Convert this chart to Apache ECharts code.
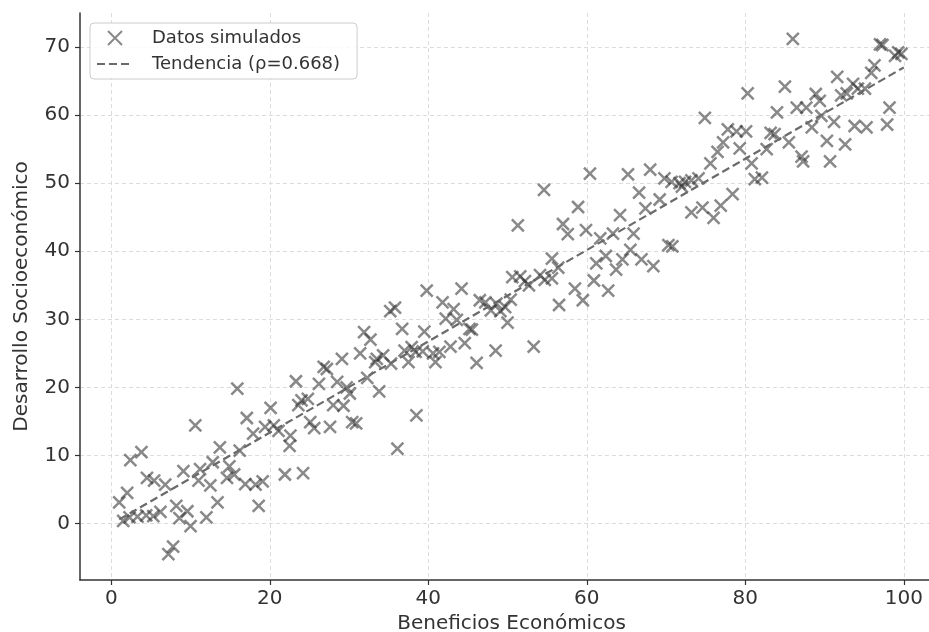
<!DOCTYPE html>
<html>
<head>
<meta charset="utf-8">
<script src="https://cdn.jsdelivr.net/npm/echarts@6/dist/echarts.min.js"></script>
<style>
html,body{margin:0;padding:0;background:#fff;overflow:hidden;}
#c{width:929px;height:632px;}
</style>
</head>
<body>
<div id="c"></div>
<script>
// ---- data ----
const xTicks = [0, 20, 40, 60, 80, 100];
const yTicks = [0, 10, 20, 30, 40, 50, 60, 70];

const beneficios = [
  1.0, 1.5, 2.0, 2.3, 2.4, 3.3, 3.8, 4.4, 4.5, 5.3,
  5.4, 6.2, 6.8, 7.2, 7.8, 8.2, 8.6, 9.1, 9.6, 10.0,
  10.6, 11.0, 11.2, 12.0, 12.5, 12.8, 13.4, 13.7, 14.6, 14.9,
  15.5, 15.9, 16.2, 16.9, 17.1, 17.9, 18.2, 18.6, 19.1, 19.4,
  20.1, 20.5, 21.1, 21.9, 22.6, 22.5, 23.3, 23.6, 24.0, 24.2,
  24.8, 25.1, 25.6, 26.2, 26.8, 27.2, 27.6, 28.0, 28.5, 29.1,
  29.3, 29.7, 30.1, 30.4, 30.9, 31.4, 31.9, 32.3, 32.7, 33.3,
  33.5, 33.8, 34.3, 35.2, 35.3, 35.8, 36.1, 36.7, 37.0, 37.5,
  37.9, 38.4, 38.5, 39.3, 39.5, 39.8, 40.6, 40.9, 41.4, 41.8,
  42.2, 42.8, 43.2, 43.6, 44.2, 44.6, 45.2, 45.5, 46.1, 46.5,
  47.2, 47.9, 48.5, 48.6, 49.1, 49.7, 50.0, 50.4, 50.6, 51.3,
  51.6, 52.2, 52.7, 53.3, 54.1, 54.6, 54.7, 55.6, 55.6, 56.4,
  56.5, 57.0, 57.6, 58.5, 58.9, 59.5, 59.9, 60.4, 60.9, 61.2,
  61.7, 62.4, 62.7, 63.3, 63.7, 64.2, 64.5, 65.2, 65.5, 65.9,
  66.6, 66.9, 67.4, 68.0, 68.4, 69.2, 69.8, 70.3, 70.8, 70.7,
  71.7, 72.0, 72.4, 73.2, 73.2, 74.1, 74.6, 74.9, 75.6, 76.0,
  76.5, 76.9, 77.2, 77.8, 78.4, 78.9, 79.3, 80.1, 80.3, 80.8,
  81.2, 82.1, 82.7, 83.2, 83.7, 84.0, 85.0, 85.5, 86.0, 86.5,
  87.1, 87.3, 87.7, 88.4, 88.9, 89.4, 89.6, 90.3, 90.7, 91.2,
  91.6, 92.1, 92.6, 92.8, 93.6, 93.8, 94.2, 95.1, 95.3, 95.9,
  96.3, 97.0, 97.3, 97.9, 98.2, 98.9, 99.3, 99.7
];

const desarrollo = [
  3.1, 0.4, 4.5, 0.9, 9.3, 1.0, 10.5, 1.2, 6.7, 1.1,
  6.3, 1.7, 5.7, -4.5, -3.4, 2.6, 0.8, 7.7, 1.8, -0.4,
  14.4, 6.3, 8.0, 0.9, 5.6, 9.0, 3.1, 11.2, 6.7, 8.4,
  7.2, 19.8, 10.7, 5.8, 15.5, 13.2, 5.7, 2.6, 6.2, 14.2,
  17.0, 14.4, 13.6, 7.2, 12.9, 11.4, 20.9, 17.4, 18.1, 7.4,
  18.3, 14.9, 14.0, 20.5, 23.0, 22.7, 14.2, 17.4, 20.8, 24.2,
  17.3, 20.0, 19.1, 14.9, 14.7, 25.0, 28.1, 21.4, 27.0, 23.7,
  24.2, 19.4, 24.7, 31.2, 23.5, 31.7, 11.0, 28.6, 25.4, 23.7,
  25.9, 25.2, 15.9, 25.3, 28.2, 34.2, 25.0, 23.7, 25.2, 32.5,
  30.1, 26.0, 31.5, 29.9, 34.5, 26.5, 28.6, 28.5, 23.6, 32.8,
  32.5, 31.3, 25.4, 32.3, 31.2, 31.8, 29.5, 32.9, 36.2, 43.8,
  36.3, 35.6, 35.0, 26.0, 36.5, 49.0, 35.8, 36.0, 38.9, 37.6,
  32.1, 44.0, 42.5, 34.5, 46.5, 32.8, 43.1, 51.4, 35.7, 38.2,
  41.9, 39.3, 34.2, 42.6, 37.3, 45.3, 38.8, 51.3, 40.2, 42.6,
  48.6, 38.8, 46.3, 52.0, 37.8, 47.6, 50.7, 40.9, 40.7, 50.2,
  50.0, 49.5, 50.2, 50.4, 45.7, 50.7, 46.4, 59.6, 52.9, 44.9,
  54.6, 46.7, 56.0, 57.9, 48.4, 57.6, 55.1, 57.6, 63.2, 52.9,
  50.6, 50.8, 55.0, 57.4, 57.2, 60.4, 64.2, 56.0, 71.2, 61.1,
  53.9, 53.2, 61.1, 58.2, 63.1, 62.1, 59.9, 56.2, 53.2, 59.0,
  65.6, 62.9, 55.7, 63.2, 64.6, 58.4, 63.9, 63.9, 58.2, 66.2,
  67.3, 70.4, 70.3, 58.6, 61.1, 68.7, 69.2, 69.0
];

const trendX = [1, 100];
const trendY = [0.6, 67.0];

const serieNames = ['Datos simulados', 'Tendencia (\u03c1=0.668)'];
const axisNames = ['Beneficios Económicos', 'Desarrollo Socioeconómico'];

// ---- chart ----
const FONT = 'DejaVu Sans';
const chart = echarts.init(document.getElementById('c'), null, {renderer: 'canvas', width: 929, height: 632});

const scatterData = beneficios.map((x, i) => [x, desarrollo[i]]);
const trendData = trendX.map((x, i) => [x, trendY[i]]);

const xMark = 'path://M0,0L10,10M10,0L0,10';

const option = {
  animation: false,
  backgroundColor: '#ffffff',
  grid: {left: 80, top: 13, width: 863, height: 567, containLabel: false, outerBoundsMode: 'none'},
  xAxis: {
    type: 'value', min: -3.95, max: 104.95,
    name: axisNames[0], nameLocation: 'middle', nameGap: 33,
    nameTextStyle: {fontFamily: FONT, fontSize: 20, color: '#333'},
    axisLine: {show: true, onZero: false, lineStyle: {color: '#333', width: 1.5}},
    axisTick: {show: true, customValues: xTicks, length: 5, lineStyle: {color: '#333', width: 1.2}},
    axisLabel: {customValues: xTicks, fontFamily: FONT, fontSize: 20, color: '#333', margin: 9},
    splitLine: {show: true, lineStyle: {color: '#dcdcdc', type: [4, 3], width: 1}}
  },
  yAxis: {
    type: 'value', min: -8.3, max: 75,
    name: axisNames[1], nameLocation: 'middle', nameGap: 48,
    nameTextStyle: {fontFamily: FONT, fontSize: 20, color: '#333'},
    axisLine: {show: true, onZero: false, lineStyle: {color: '#333', width: 1.5}},
    axisTick: {show: true, customValues: yTicks, length: 5, lineStyle: {color: '#333', width: 1.2}},
    axisLabel: {customValues: yTicks, fontFamily: FONT, fontSize: 20, color: '#333', margin: 10},
    splitLine: {show: true, lineStyle: {color: '#dcdcdc', type: [4, 3], width: 1}}
  },
  legend: {
    orient: 'vertical', left: 90, top: 23,
    padding: [6, 17, 6, 6], itemGap: 8, itemWidth: 36, itemHeight: 14,
    borderColor: '#cccccc', borderWidth: 1, borderRadius: 4,
    backgroundColor: 'rgba(255,255,255,0.85)',
    textStyle: {fontFamily: FONT, fontSize: 18, color: '#333', padding: [0, 0, 0, 14]},
    data: [
      {name: serieNames[0]},
      {name: serieNames[1], itemStyle: {color: 'rgba(0,0,0,0)', borderWidth: 0, opacity: 0}}
    ]
  },
  series: [
    {
      name: serieNames[0], type: 'scatter', data: scatterData,
      symbol: xMark, symbolSize: 12,
      itemStyle: {color: 'rgba(0,0,0,0)', borderColor: 'rgba(45,45,45,0.7)', borderWidth: 2.5},
      z: 3
    },
    {
      name: serieNames[1], type: 'line', data: trendData,
      symbol: 'none', showSymbol: false,
      lineStyle: {color: '#6a6a6a', width: 2.2, type: [8, 4]},
      itemStyle: {color: '#6a6a6a'},
      z: 4
    }
  ]
};
chart.setOption(option);
</script>
</body>
</html>
